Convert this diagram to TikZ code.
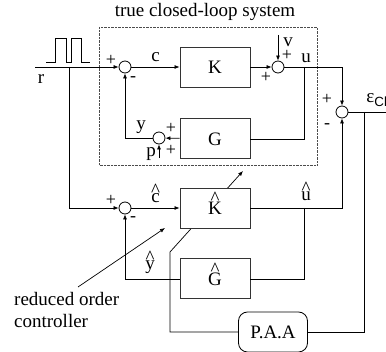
\documentclass[tikz,border=0pt]{standalone}
\usepackage{fontspec}
\setmainfont{Liberation Serif}
\setsansfont{Liberation Sans}
\usetikzlibrary{arrows.meta, positioning, backgrounds}

% caret set above a letter, as in the estimated signals
\newlength{\hatraise}
\newcommand{\hatted}[1]{\settoheight{\hatraise}{#1}%
  \ooalign{#1\cr\hidewidth\raisebox{\dimexpr\hatraise-3pt\relax}{\textasciicircum}\hidewidth\cr}}

\begin{document}
\begin{tikzpicture}[
    x=1pt, y=-1pt,
    font=\fontsize{19}{22}\selectfont,
    block/.style={rectangle, draw=black!80, line width=0.9pt, fill=white, minimum width=70pt, minimum height=40pt, inner sep=0pt},
    sum/.style={circle, draw, line width=0.8pt, fill=white, minimum size=12pt, inner sep=0pt},
    paabox/.style={rectangle, draw, line width=0.8pt, rounded corners=9pt, minimum width=69pt, minimum height=40pt},
    arrow/.style={-{Latex[length=5pt,width=4pt]}, line width=0.7pt},
    wire/.style={line width=0.7pt},
    sign/.style={font=\fontsize{18}{18}\selectfont, inner sep=0pt},
    sig/.style={inner sep=0pt}
]
    \useasboundingbox (0,0) rectangle (386,352);

    % True closed loop
    \node[block] (K) at (215,67) {K};
    \node[block, below=31pt of K] (G) {G};
    \node[sum] (s1) at (125,67) {};
    \node[sum] (s2) at (278,67) {};
    \node[sum] (sp) at (159,138) {};

    \draw[densely dotted, black!70] (99,27) rectangle (317,165);
    \node (title) at (205,12) {true closed-loop system};

    % Reduced order loop
    \node[block] (Kh) at (215,208) {\hatted{K}};
    \node[block, below=30pt of Kh] (Gh) {\hatted{G}};
    \node[sum] (s4) at (125,208) {};
    \node[sum] (se) at (342,112) {};
    \node[paabox] (paa) at (273,332) {P.A.A};

    % Reference input
    \coordinate (rin) at (35,67);
    \coordinate (rsplit) at (69,67);
    \draw[wire] (46,62) -| (55,38) -| (66,62) -| (71,38) -| (81,62) -- (90,62);
    \draw[arrow] (rin) -- (s1);
    \draw[arrow] (rsplit) |- (s4);
    \node[sig] (rlab) at (41,79) {r};

    % Upper signals
    \draw[arrow] (s1) -- node[sig, above=5pt] {c} (K);
    \draw[arrow] (K) -- (s2);
    \coordinate (vin) at (278,35);
    \draw[arrow] (vin) -- (s2);
    \node[sig] (vlab) at (288,42) {v};
    \coordinate (ucorner) at (342,67);
    \coordinate (usplit) at (304,67);
    \draw[arrow] (s2) -- (ucorner) -- (se);
    \node[sig] (ulab) at (306,58) {u};
    \draw[wire] (usplit) |- (G);
    \draw[arrow] (G) -- (sp);
    \coordinate (pin) at (159,158);
    \draw[arrow] (pin) -- (sp);
    \node[sig] (plab) at (151,154) {p};
    \draw[arrow] (sp) -| (s1);
    \node[sig] (ylab) at (141,127) {y};

    % Lower signals
    \draw[arrow] (s4) -- node[sig, above=5pt] {\hatted{c}} (Kh);
    \coordinate (uhcorner) at (342,208);
    \coordinate (uhsplit) at (304,208);
    \draw[arrow] (Kh) -- (uhcorner) -- (se);
    \node[sig] (uhlab) at (306,196) {\hatted{u}};
    \draw[wire] (uhsplit) |- (Gh);
    \draw[arrow] (Gh) -| (s4);
    \node[sig] (yhlab) at (150,265) {\hatted{y}};

    % Output error and adaptation
    \coordinate (eout) at (392,112);
    \coordinate (esplit) at (364,112);
    \draw[wire] (se) -- (eout);
    \draw[wire] (esplit) |- (paa);
    \node[sig] (elab) at (377,100) {ε\textsubscript{\sffamily Cl}};
    \coordinate (tuneA) at (170,252);
    \coordinate (tuneB) at (243,171);
    \begin{pgfonlayer}{background}
        \draw[arrow] (paa) -| (tuneA) -- (tuneB);
    \end{pgfonlayer}

    % Signs at the summing points
    \node[sign] at (111,60) {+};
    \node[sign] at (133,79) {-};
    \node[sign] at (287,55) {+};
    \node[sign] at (266,77) {+};
    \node[sign] at (171,128) {+};
    \node[sign] at (171,150) {+};
    \node[sign] at (111,200) {+};
    \node[sign] at (133,219) {-};
    \node[sign] at (327,99) {+};
    \node[sign] at (327,126) {-};

    % Annotation
    \coordinate (redtail) at (78,287);
    \coordinate (redtip) at (165,228);
    \node[align=left, anchor=north west, inner sep=0pt] (red) at (14,292) {reduced order\\controller};
    \draw[arrow] (redtail) -- (redtip);
\end{tikzpicture}
\end{document}
